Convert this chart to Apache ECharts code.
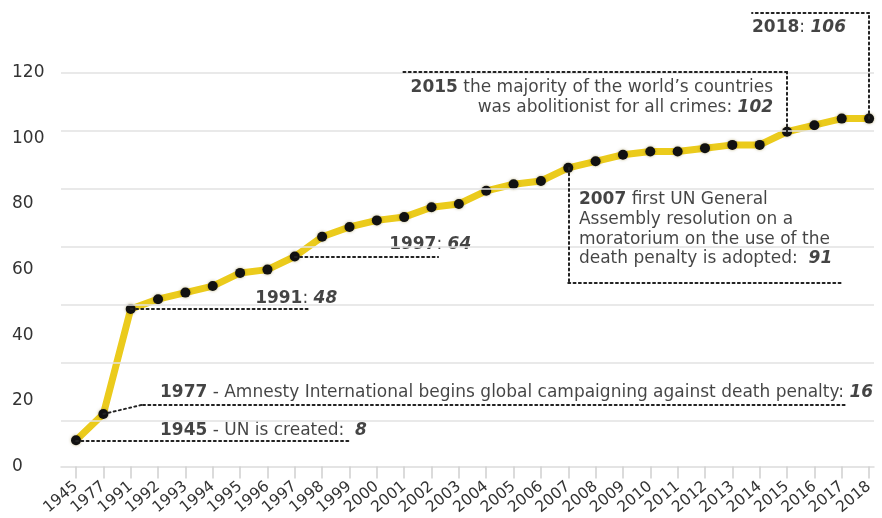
<!DOCTYPE html>
<html>
<head>
<meta charset="utf-8">
<script src="https://cdn.jsdelivr.net/npm/echarts@6/dist/echarts.min.js"></script>
<style>html,body{margin:0;padding:0;background:#fff}#c{width:882px;height:518px}</style>
</head>
<body>
<div id="c"></div>
<script>
// ---- data ----
const years = ['1945','1977','1991','1992','1993','1994','1995','1996','1997','1998','1999','2000','2001','2002','2003','2004','2005','2006','2007','2008','2009','2010','2011','2012','2013','2014','2015','2016','2017','2018'];
const countries = [8,16,48,51,53,55,59,60,64,70,73,75,76,79,80,84,86,87,91,93,95,96,96,97,98,98,102,104,106,106];
const yTicks = [0,20,40,60,80,100,120];
const gridLevels = [14,31.7,49.3,67,84.6,102.3,120];

// ---- layout of annotations (in data space: x = category index, y = value) ----
const FONT = 'DejaVu Sans';
const annLines = [
  [[0,8],[10.0,8]],
  [[1,16],[2.45,18.9],[28.16,18.9]],
  [[2,48],[8.48,48]],
  [[8,64],[13.24,64]],
  [[18,91],[18,56],[28.01,56]],
  [[26,102],[26,120.2],[11.96,120.2]],
  [[29,106],[29,138.2],[24.72,138.2]]
];
const annTexts = [
  {at:[3.07,10.96], align:'left', va:'middle', text:'{b|1945} - UN is created:  {i|8}'},
  {at:[3.07,22.6], align:'left', va:'middle', text:'{b|1977} - Amnesty International begins global campaigning against death penalty: {i|16}'},
  {at:[6.55,51.1], align:'left', va:'middle', text:'{b|1991}: {i|48}'},
  {at:[11.45,67.6], align:'left', va:'middle', text:'{b|1997}: {i|64}'},
  {at:[18.39,84.3], align:'left', va:'top', text:'{b|2007} first UN General\nAssembly resolution on a\nmoratorium on the use of the\ndeath penalty is adopted:  {i|91}'},
  {at:[25.49,118.4], align:'right', va:'top', text:'{b|2015} the majority of the world\u2019s countries\nwas abolitionist for all crimes: {i|102}'},
  {at:[24.72,133.6], align:'left', va:'middle', text:'{b|2018}: {i|106}'}
];

const idx = years.map((_, i) => i);
const segs = [];
annLines.forEach(pl => { for (let k = 0; k < pl.length - 1; k++) segs.push([{coord: pl[k]}, {coord: pl[k+1]}]); });

const FS = 17;
const TXT = '#151515';
const rich = {
  b: {fontFamily: FONT, fontWeight: 'bold', fontSize: FS, color: TXT, lineHeight: 19.7},
  i: {fontFamily: FONT, fontWeight: 'bold', fontStyle: 'italic', fontSize: FS, color: TXT, lineHeight: 19.7}
};

const chart = echarts.init(document.getElementById('c'), null, {renderer: 'canvas'});
chart.setOption({
  animation: false,
  backgroundColor: '#fff',
  grid: {left: 61, right: 8, top: 7, bottom: 51, containLabel: false},
  xAxis: {
    type: 'value', min: -0.549, max: 29.18,
    axisLine: {show: true, lineStyle: {color: '#dcdcdc', width: 1.5}},
    axisTick: {show: true, customValues: idx, length: 12, lineStyle: {color: '#cfcfcf', width: 1.5}},
    axisLabel: {customValues: idx, rotate: 40, margin: 18, fontFamily: FONT, fontSize: 15.5, color: '#333', hideOverlap: false,
      formatter: v => years[Math.round(v)]},
    splitLine: {show: false}
  },
  yAxis: {
    type: 'value', min: 0, max: 140, interval: 20,
    axisLine: {show: false}, axisTick: {show: false}, splitLine: {show: false},
    axisLabel: {customValues: yTicks, align: 'left', margin: 49, fontFamily: FONT, fontSize: 17, color: '#333'}
  },
  series: [
    {
      type: 'line', data: [], silent: true, z: 1,
      markLine: {silent: true, symbol: 'none', label: {show: false},
        lineStyle: {color: '#e2e2e2', width: 1.5, type: 'solid'},
        data: gridLevels.map(v => ({yAxis: v}))}
    },
    {
      type: 'line', data: [], silent: true, z: 2,
      markLine: {silent: true, symbol: 'none', label: {show: false}, animation: false,
        lineStyle: {color: '#222', width: 2, type: [2, 3.3], cap: 'round'},
        data: segs}
    },
    {
      type: 'line', z: 3,
      data: idx.map(i => [i, countries[i]]),
      lineStyle: {color: '#EBCB1C', width: 7},
      symbol: 'circle', symbolSize: 10, showAllSymbol: true,
      itemStyle: {color: '#111', borderWidth: 0, shadowBlur: 3, shadowColor: 'rgba(120,100,0,0.5)'}
    },
    {
      type: 'scatter', z: 4, symbolSize: 0, silent: true,
      data: annTexts.map(a => ({
        value: a.at,
        label: {show: true, position: [0, 0], align: a.align, verticalAlign: a.va,
          formatter: a.text, fontFamily: FONT, fontSize: FS, color: TXT, lineHeight: 19.7, rich: rich}
      }))
    }
  ]
});
</script>
</body>
</html>
